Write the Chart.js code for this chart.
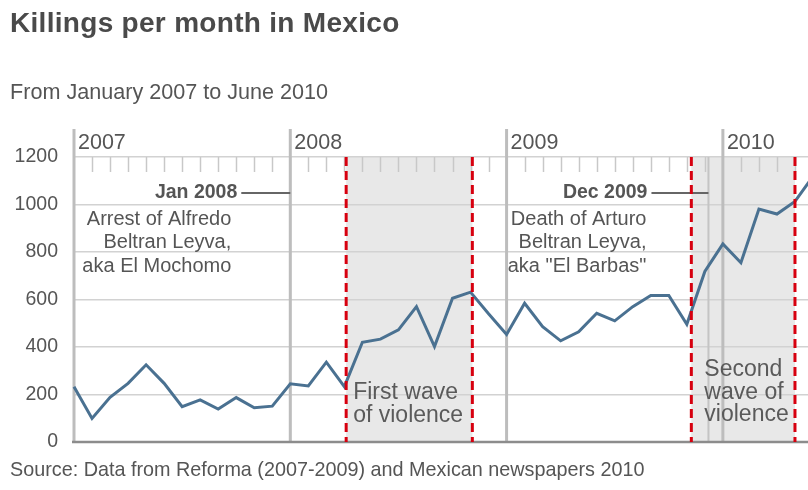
<!DOCTYPE html>
<html>
<head>
<meta charset="utf-8">
<script src="https://cdn.jsdelivr.net/npm/chart.js@4.4.1/dist/chart.umd.min.js"></script>
<style>
html, body { margin: 0; padding: 0; background: #fff; overflow: hidden; }
body { width: 808px; height: 490px; position: relative; font-family: "Liberation Sans", Arial, sans-serif; color: #555; }
#wrap { position: absolute; left: 0; top: 0; width: 820px; height: 490px; }
.txt { position: absolute; left: 10px; white-space: nowrap; line-height: 1; }
#title { top: 9px; font-size: 28px; letter-spacing: 0.3px; font-weight: bold; color: #4a4a4a; }
#subtitle { top: 81px; font-size: 21.6px; }
#source { top: 460px; font-size: 19.8px; }
</style>
</head>
<body>
<div id="wrap"><canvas id="chart" width="820" height="490"></canvas></div>
<div class="txt" id="title">Killings per month in Mexico</div>
<div class="txt" id="subtitle">From January 2007 to June 2010</div>
<div class="txt" id="source">Source: Data from Reforma (2007-2009) and Mexican newspapers 2010</div>
<script>
var years = ["2007", "2008", "2009", "2010"];
var monthNames = ["Jan", "Feb", "Mar", "Apr", "May", "Jun", "Jul", "Aug", "Sep", "Oct", "Nov", "Dec"];
var killings2007 = [233, 99, 188, 247, 325, 247, 149, 177, 139, 187, 144, 151];
var killings2008 = [245, 236, 336, 233, 420, 433, 472, 570, 402, 605, 631, 540];
var killings2009 = [453, 584, 486, 426, 464, 542, 510, 570, 617, 617, 496, 718];
var killings2010 = [834, 755, 981, 960, 1013, 1118];
var yTicks = [0, 200, 400, 600, 800, 1000, 1200];

// violence waves, as month index from Jan 2007
var waveStarts = [15.1, 34.25];
var waveEnds = [22.1, 40];
var waveLabels = [["First wave", "of violence"], ["Second", "wave of", "violence"]];

var eventMonths = [12, 35.2];
var eventDates = ["Jan 2008", "Dec 2009"];
var eventTexts = [["Arrest of Alfredo", "Beltran Leyva,", "aka El Mochomo"],
                  ["Death of Arturo", "Beltran Leyva,", "aka \"El Barbas\""]];

var labels = [];
years.forEach(function(y) { monthNames.forEach(function(m) { labels.push(m + " " + y); }); });
var values = killings2007.concat(killings2008, killings2009, killings2010);
labels = labels.slice(0, values.length);

var FONT = "'Liberation Sans', Arial, sans-serif";
var GREY = "#555";

var decor = {
    id: "decor",
    beforeDraw: function(chart) {
        var ctx = chart.ctx, a = chart.chartArea, x = chart.scales.x;
        ctx.save();
        ctx.fillStyle = "#e8e8e8";
        for (var i = 0; i < waveStarts.length; i++) {
            var x0 = x.getPixelForValue(waveStarts[i]), x1 = x.getPixelForValue(waveEnds[i]);
            ctx.fillRect(x0, a.top, x1 - x0, a.bottom - a.top);
        }
        ctx.restore();
    },
    beforeDatasetsDraw: function(chart) {
        var ctx = chart.ctx, a = chart.chartArea, x = chart.scales.x;
        ctx.save();
        // month ticks hanging from the top line
        ctx.strokeStyle = "#c8c8c8";
        ctx.lineWidth = 1.5;
        for (var m = 0; m < years.length * 12; m++) {
            if (m % 12 == 0) continue;
            var px = Math.round(x.getPixelForValue(m)) + 0.5;
            ctx.beginPath(); ctx.moveTo(px, a.top); ctx.lineTo(px, a.top + 15); ctx.stroke();
        }
        // event marker lines
        ctx.strokeStyle = "#c4c4c4";
        ctx.lineWidth = 2;
        eventMonths.forEach(function(em) {
            var px = x.getPixelForValue(em);
            ctx.beginPath(); ctx.moveTo(px, a.top); ctx.lineTo(px, a.bottom); ctx.stroke();
        });
        // year lines + labels
        ctx.strokeStyle = "#bdbdbd";
        ctx.lineWidth = 3;
        ctx.fillStyle = GREY;
        ctx.font = "21.5px " + FONT;
        ctx.textBaseline = "middle";
        ctx.textAlign = "left";
        years.forEach(function(y, i) {
            var px = x.getPixelForValue(i * 12);
            ctx.beginPath(); ctx.moveTo(px, a.top - 28); ctx.lineTo(px, a.bottom); ctx.stroke();
            ctx.fillText(y, px + 4, a.top - 14);
        });
        // bottom axis
        ctx.strokeStyle = "#8c8c8c";
        ctx.lineWidth = 2.5;
        ctx.beginPath(); ctx.moveTo(a.left - 2, a.bottom); ctx.lineTo(chart.width, a.bottom); ctx.stroke();
        // event annotations
        var textRight = [53, 61], lineRight = [59, 62];
        eventMonths.forEach(function(em, i) {
            var px = x.getPixelForValue(em);
            var cy = a.top + 36;
            ctx.font = "bold 19.5px " + FONT;
            ctx.textAlign = "right";
            ctx.fillStyle = "#555";
            ctx.fillText(eventDates[i], px - textRight[i], cy);
            ctx.strokeStyle = "#666";
            ctx.lineWidth = 2;
            ctx.beginPath(); ctx.moveTo(px - textRight[i] + 4, cy); ctx.lineTo(px, cy); ctx.stroke();
            ctx.font = "20px " + FONT;
            eventTexts[i].forEach(function(t, j) {
                ctx.fillText(t, px - lineRight[i], cy + 26 + j * 23.5);
            });
        });
        // wave labels
        var waveOffsets = [7, 13], waveTops = [393, 370];
        ctx.font = "23px " + FONT;
        ctx.textAlign = "left";
        ctx.fillStyle = "#5a5a5a";
        waveLabels.forEach(function(lines, i) {
            var px = x.getPixelForValue(waveStarts[i]) + waveOffsets[i];
            lines.forEach(function(t, j) { ctx.fillText(t, px, waveTops[i] + j * 22.5); });
        });
        ctx.restore();
    },
    afterDatasetsDraw: function(chart) {
        var ctx = chart.ctx, a = chart.chartArea, x = chart.scales.x;
        ctx.save();
        ctx.strokeStyle = "#d7000f";
        ctx.lineWidth = 3;
        ctx.setLineDash([9, 5]);
        waveStarts.concat(waveEnds).forEach(function(v) {
            var px = x.getPixelForValue(v);
            ctx.beginPath(); ctx.moveTo(px, a.top); ctx.lineTo(px, a.bottom); ctx.stroke();
        });
        ctx.restore();
    }
};

new Chart(document.getElementById("chart"), {
    type: "line",
    data: {
        labels: labels,
        datasets: [{
            label: "Killings",
            data: values,
            borderColor: "#4a7191",
            borderWidth: 3,
            pointRadius: 0,
            tension: 0,
            clip: false
        }]
    },
    options: {
        responsive: false,
        animation: false,
        layout: {padding: {left: 0, right: 7, top: 157, bottom: 48}},
        plugins: {legend: {display: false}, tooltip: {enabled: false}, title: {display: false}},
        scales: {
            x: {type: "category", display: false, offset: false},
            y: {
                min: 0, max: 1200,
                afterBuildTicks: function(s) { s.ticks = yTicks.map(function(v) { return {value: v}; }); },
                afterFit: function(s) { s.width = 74; },
                ticks: {color: GREY, font: {family: FONT, size: 19.5}, padding: 16,
                        callback: function(v) { return String(v); }},
                grid: {color: "#d2d2d2", lineWidth: 1.5, drawTicks: false},
                border: {display: false}
            }
        }
    },
    plugins: [decor]
});
</script>
</body>
</html>
